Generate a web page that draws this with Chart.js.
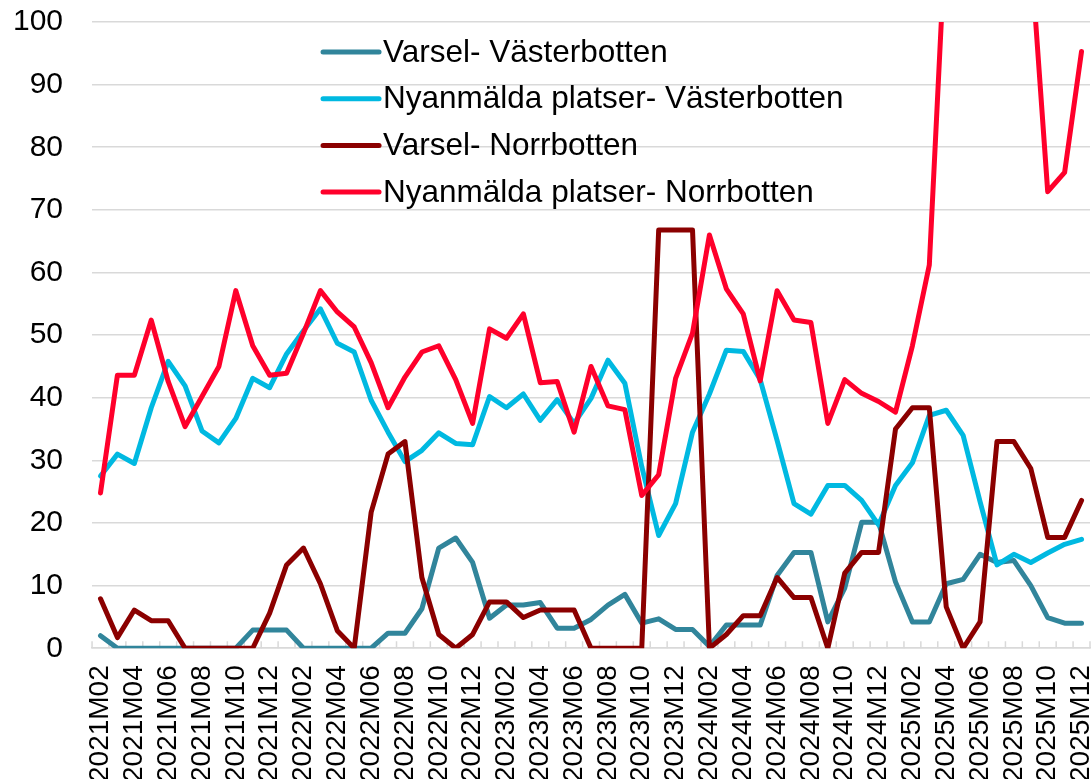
<!DOCTYPE html>
<html>
<head>
<meta charset="utf-8">
<script src="https://cdn.jsdelivr.net/npm/chart.js@4.4.1/dist/chart.umd.min.js"></script>
<style>
  html, body { margin: 0; padding: 0; background: #fff; overflow: hidden; }
  #wrap { position: relative; width: 1092px; height: 799px; }
</style>
</head>
<body>
<div id="wrap"><canvas id="chart"></canvas></div>
<script>
// Monthly series, 2021M02 .. 2025M12
const months = [
  "2021M02","2021M03","2021M04","2021M05","2021M06","2021M07","2021M08","2021M09","2021M10","2021M11","2021M12",
  "2022M01","2022M02","2022M03","2022M04","2022M05","2022M06","2022M07","2022M08","2022M09","2022M10","2022M11","2022M12",
  "2023M01","2023M02","2023M03","2023M04","2023M05","2023M06","2023M07","2023M08","2023M09","2023M10","2023M11","2023M12",
  "2024M01","2024M02","2024M03","2024M04","2024M05","2024M06","2024M07","2024M08","2024M09","2024M10","2024M11","2024M12",
  "2025M01","2025M02","2025M03","2025M04","2025M05","2025M06","2025M07","2025M08","2025M09","2025M10","2025M11","2025M12"
];

const varselVasterbotten = [
  2.0, 0, 0, 0, 0, 0, 0, 0, 0, 2.9, 2.9, 2.9, 0, 0, 0,
  0, 0, 2.4, 2.4, 6.3, 16.0, 17.6, 13.7, 4.8, 6.9, 6.9, 7.3, 3.2, 3.2, 4.6,
  6.9, 8.6, 4.0, 4.7, 3.0, 3.0, 0.3, 3.7, 3.7, 3.7, 11.6, 15.3, 15.3, 4.2, 9.6,
  20.1, 20.1, 10.6, 4.2, 4.2, 10.3, 11.0, 15.0, 13.7, 14.0, 10.0, 4.9, 4.0, 4.0
];

const platserVasterbotten = [
  27.5, 31.0, 29.5, 38.4, 45.8, 41.9, 34.7, 32.8, 36.7, 43.1, 41.6, 47.0, 50.7, 54.2, 48.7,
  47.3, 39.6, 34.5, 29.8, 31.6, 34.4, 32.7, 32.5, 40.2, 38.4, 40.6, 36.4, 39.7, 35.9, 39.9,
  46.0, 42.3, 29.0, 18.0, 23.1, 34.5, 40.6, 47.6, 47.4, 42.9, 33.2, 23.1, 21.4, 26.0, 26.0,
  23.6, 19.7, 26.0, 29.6, 37.2, 38.0, 34.0, 23.4, 13.3, 15.0, 13.7, 15.2, 16.6, 17.4
];

const varselNorrbotten = [
  7.9, 1.7, 6.1, 4.4, 4.4, 0, 0, 0, 0, 0, 5.6, 13.3, 16.0, 10.3, 2.8,
  0, 21.7, 31.0, 33.0, 11.3, 2.2, 0, 2.2, 7.4, 7.4, 4.9, 6.1, 6.1, 6.1, 0,
  0, 0, 0, 66.8, 66.8, 66.8, 0, 2.2, 5.2, 5.2, 11.3, 8.1, 8.1, 0, 12.0,
  15.3, 15.3, 35.0, 38.4, 38.4, 6.6, 0, 4.2, 33.0, 33.0, 28.7, 17.7, 17.7, 23.6
];

// values in 2025M04..M09 run off the top of the chart; estimated from the slopes
const platserNorrbotten = [
  24.8, 43.6, 43.6, 52.4, 42.6, 35.4, 40.2, 45.0, 57.1, 48.3, 43.6, 43.9, 50.3, 57.1, 53.7,
  51.3, 45.6, 38.4, 43.3, 47.3, 48.3, 42.9, 35.9, 51.0, 49.5, 53.4, 42.4, 42.6, 34.5, 45.0,
  38.7, 38.1, 24.4, 27.7, 43.1, 50.3, 66.0, 57.4, 53.4, 42.7, 57.1, 52.4, 52.0, 35.9, 42.9,
  40.7, 39.4, 37.7, 48.3, 61.2, 116, 126, 134, 130, 121, 111, 72.9, 76.0, 95.3
];

const seriesLabels = [
  "Varsel- Västerbotten",
  "Nyanmälda platser- Västerbotten",
  "Varsel- Norrbotten",
  "Nyanmälda platser- Norrbotten"
];
const seriesColors = ["#31859B", "#00B9E1", "#8B0000", "#FF002B"];

const FONT = '"Liberation Sans", Arial, sans-serif';
const GRID = "#d9d9d9";

// Excel-style tick marks sitting on the axis, pointing up into the plot
const innerTicks = {
  id: "innerTicks",
  beforeDatasetsDraw(chart) {
    const x = chart.scales.x;
    const bottom = chart.chartArea.bottom;
    const half = (x.getPixelForValue(1) - x.getPixelForValue(0)) / 2;
    const ctx = chart.ctx;
    ctx.save();
    ctx.strokeStyle = GRID;
    ctx.lineWidth = 1.5;
    ctx.beginPath();
    for (let i = 0; i <= months.length; i++) {
      const px = x.getPixelForValue(Math.min(i, months.length - 1)) + (i === months.length ? half : -half);
      ctx.moveTo(px, bottom);
      ctx.lineTo(px, bottom - 7);
    }
    ctx.stroke();
    ctx.restore();
  }
};

// legend floating inside the plot area
const insideLegend = {
  id: "insideLegend",
  afterDraw(chart) {
    const { ctx, chartArea } = chart;
    const x0 = chartArea.left + 231;
    const y0 = chartArea.top + 30;
    ctx.save();
    ctx.font = "31.5px " + FONT;
    ctx.textBaseline = "middle";
    chart.data.datasets.forEach((ds, i) => {
      const y = y0 + i * 46.7;
      ctx.strokeStyle = ds.borderColor;
      ctx.lineWidth = 5;
      ctx.lineCap = "round";
      ctx.beginPath();
      ctx.moveTo(x0, y);
      ctx.lineTo(x0 + 56, y);
      ctx.stroke();
      ctx.fillStyle = "#000";
      ctx.fillText(ds.label, x0 + 60, y + 1);
    });
    ctx.restore();
  }
};

const values = [varselVasterbotten, platserVasterbotten, varselNorrbotten, platserNorrbotten];
const datasets = values.map((data, i) => ({
  label: seriesLabels[i],
  data: data,
  borderColor: seriesColors[i],
  backgroundColor: seriesColors[i],
  borderWidth: 5,
  borderCapStyle: "round",
  borderJoinStyle: "round",
  pointRadius: 0,
  tension: 0,
  order: values.length - i, // later series on top, as in the original
}));

new Chart(document.getElementById("chart"), {
  type: "line",
  data: { labels: months, datasets },
  plugins: [innerTicks, insideLegend],
  options: {
    responsive: true,
    maintainAspectRatio: false,
    animation: false,
    layout: { padding: { top: 22, right: 2, bottom: 0, left: 13 } },
    plugins: {
      legend: { display: false },
      tooltip: { enabled: false },
    },
    scales: {
      x: {
        type: "category",
        offset: true,
        grid: { display: false, drawTicks: false },
        border: { display: true, color: GRID, width: 1.5 },
        // rotated labels would otherwise reserve a wide left margin
        afterFit(scale) {
          scale.paddingLeft = 0;
          scale.paddingRight = 0;
        },
        ticks: {
          autoSkip: false,
          minRotation: 90,
          maxRotation: 90,
          padding: 17,
          color: "#000",
          font: { family: FONT, size: 28 },
          callback: function (val, idx) {
            return idx % 2 === 0 ? this.getLabelForValue(val) : "";
          },
        },
      },
      y: {
        min: 0,
        max: 100,
        grid: { color: GRID, lineWidth: 1.5, drawTicks: false },
        border: { display: false },
        // tick padding is counted twice in the axis width; keep it once
        afterFit(scale) {
          scale.width -= scale.options.ticks.padding;
          scale.paddingTop = 0;
          scale.paddingBottom = 0;
        },
        ticks: {
          stepSize: 10,
          padding: 29,
          color: "#000",
          font: { family: FONT, size: 30 },
        },
      },
    },
  },
});
</script>
</body>
</html>
